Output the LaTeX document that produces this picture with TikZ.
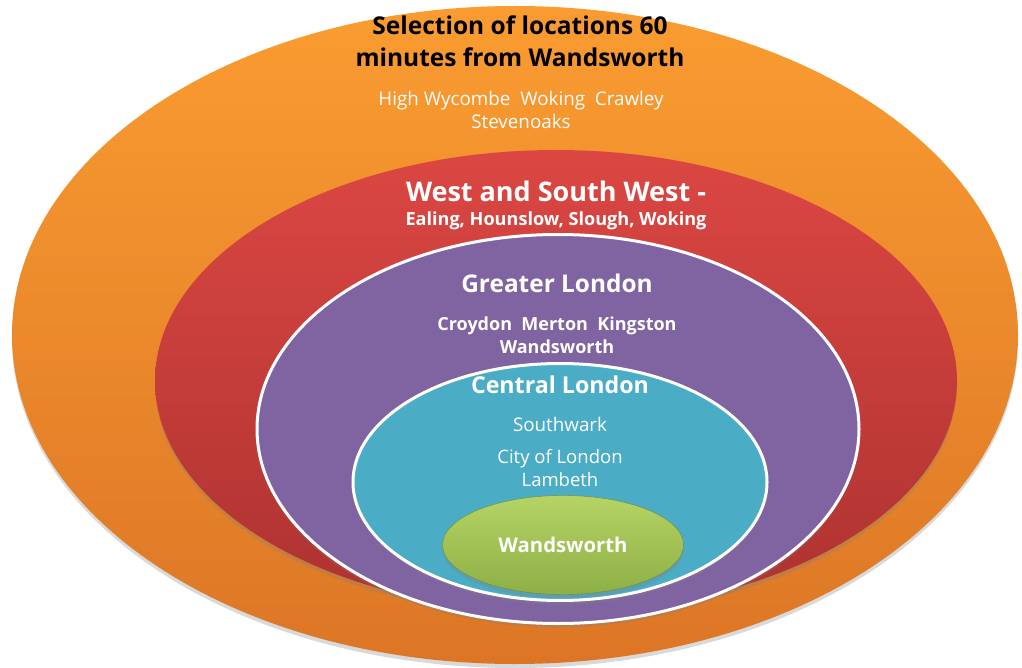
\documentclass[tikz,border=0pt]{standalone}
\usepackage{fontspec}
\setmainfont{Open Sans}
\usetikzlibrary{shapes.geometric,shadows}
\definecolor{orTop}{HTML}{FA9C31}
\definecolor{orBot}{HTML}{DC7626}
\definecolor{rdTop}{HTML}{DB4743}
\definecolor{rdBot}{HTML}{AD3230}
\definecolor{purp}{HTML}{8064A2}
\definecolor{aqua}{HTML}{4BACC6}
\definecolor{grTop}{HTML}{B6D466}
\definecolor{grBot}{HTML}{8DAF45}
\tikzset{
  ring/.style={ellipse, inner sep=0pt, drop shadow={shadow xshift=0pt, shadow yshift=-4pt, opacity=0.3}},
  ringline/.style={draw=white, line width=3pt},
  lbl/.style={text=white, align=center, inner sep=0pt},
}
\begin{document}
\begin{tikzpicture}[x=1pt,y=-1pt]
\useasboundingbox (0,0) rectangle (1022,668);
\node[ring, top color=orTop, bottom color=orBot, minimum width=1006pt, minimum height=658pt] (orange) at (515,335) {};
\node[ring, top color=rdTop, bottom color=rdBot, minimum width=802pt, minimum height=462pt] (red) at (556,381) {};
\node[ring, ringline, fill=purp, minimum width=602pt, minimum height=389pt] (purple) at (558,429) {};
\node[ring, ringline, fill=aqua, minimum width=414pt, minimum height=237pt] (cyan) at (560,482) {};
\node[ring, top color=grTop, bottom color=grBot, draw=grBot!80!black, line width=0.4pt, minimum width=241pt, minimum height=99pt] (green) at (563,545) {};

\node[lbl, text=black, font=\fontsize{24.5}{32}\selectfont\bfseries] (t1) at (520,41) {Selection of locations 60\\minutes from Wandsworth};
\node[lbl, font=\fontsize{18.8}{23}\selectfont] (t2) at (521,109.5) {High Wycombe\ \ Woking\ \ Crawley\\Stevenoaks};
\node[lbl, font=\fontsize{27}{30}\selectfont\bfseries] (t3) at (556,191) {West and South West -};
\node[lbl, font=\fontsize{18.1}{22}\selectfont\bfseries] (t4) at (556,221) {Ealing, Hounslow, Slough, Woking};
\node[lbl, font=\fontsize{24.4}{28}\selectfont\bfseries] (t5) at (557,283) {Greater London};
\node[lbl, font=\fontsize{18}{23}\selectfont\bfseries] (t6) at (557,335.5) {Croydon\ \ Merton\ \ Kingston\\Wandsworth};
\node[lbl, font=\fontsize{23.2}{28}\selectfont\bfseries] (t7) at (560,385) {Central London};
\node[lbl, font=\fontsize{18.8}{22}\selectfont] (t8) at (560,424) {Southwark};
\node[lbl, font=\fontsize{18.5}{23}\selectfont] (t9) at (560,468.5) {City of London\\Lambeth};
\node[lbl, font=\fontsize{20.3}{24}\selectfont\bfseries] (t10) at (563,545) {Wandsworth};
\end{tikzpicture}
\end{document}
